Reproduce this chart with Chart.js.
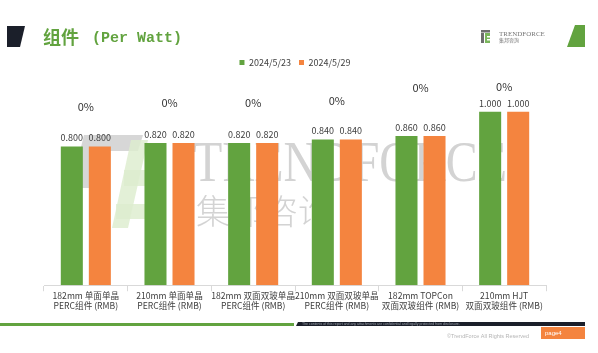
<!DOCTYPE html>
<html>
<head>
<meta charset="utf-8">
<script src="https://cdn.jsdelivr.net/npm/chart.js@4.4.0/dist/chart.umd.min.js"></script>
<style>
  html, body { margin: 0; padding: 0; background: #fff; }
  #wrap { width: 598px; height: 353px; position: relative; }
</style>
</head>
<body>
<div id="wrap"><canvas id="chart" width="598" height="353"></canvas></div>
<script>
const categories = [
  ["182mm 单面单晶", "PERC组件 (RMB)"],
  ["210mm 单面单晶", "PERC组件 (RMB)"],
  ["182mm 双面双玻单晶", "PERC组件 (RMB)"],
  ["210mm 双面双玻单晶", "PERC组件 (RMB)"],
  ["182mm TOPCon", "双面双玻组件 (RMB)"],
  ["210mm HJT", "双面双玻组件 (RMB)"]
];
const seriesNames = ["2024/5/23", "2024/5/29"];
const prices0523 = [0.800, 0.820, 0.820, 0.840, 0.860, 1.000];
const prices0529 = [0.800, 0.820, 0.820, 0.840, 0.860, 1.000];
const changes = ["0%", "0%", "0%", "0%", "0%", "0%"];

const GREEN = "#62a33f";
const ORANGE = "#f4843f";
const CJK = "'Noto Sans CJK SC', 'Noto Sans', sans-serif";

// how far above the taller bar each change label sits (px)
const changeLift = [40, 40, 40, 39, 48, 25];

const decor = {
  id: "decor",
  beforeDatasetsDraw(chart) {
    const ctx = chart.ctx;
    ctx.save();
    // watermark logo
    ctx.fillStyle = "rgba(205,205,205,0.8)";
    ctx.beginPath();
    ctx.moveTo(84, 135); ctx.lineTo(143, 135); ctx.lineTo(138, 151); ctx.lineTo(80, 151);
    ctx.closePath(); ctx.fill();
    ctx.beginPath();
    ctx.moveTo(80, 151); ctx.lineTo(101, 151); ctx.lineTo(94, 188); ctx.lineTo(74, 188);
    ctx.closePath(); ctx.fill();
    ctx.fillStyle = "rgba(222,237,208,0.85)";
    ctx.beginPath();
    ctx.moveTo(131, 140); ctx.lineTo(148, 140); ctx.lineTo(128, 228); ctx.lineTo(112, 228);
    ctx.closePath(); ctx.fill();
    ctx.fillRect(124, 170, 40, 16);
    ctx.fillRect(116, 204, 44, 15);
    // watermark text
    ctx.fillStyle = "rgba(196,196,196,0.75)";
    ctx.font = "56px 'Liberation Serif', serif";
    ctx.textBaseline = "alphabetic";
    const wm = "TRENDFORCE";
    const w = ctx.measureText(wm).width;
    ctx.translate(193, 181);
    ctx.scale(314 / w, 1);
    ctx.fillText(wm, 0, 0);
    ctx.restore();
    ctx.save();
    ctx.fillStyle = "rgba(196,196,196,0.75)";
    ctx.font = "300 34px " + CJK;
    ctx.textBaseline = "alphabetic";
    ctx.fillText("集邦咨询", 196, 224);
    ctx.restore();
  },
  afterDatasetsDraw(chart) {
    const ctx = chart.ctx;
    ctx.save();
    ctx.fillStyle = "#404040";
    ctx.font = "9px " + CJK;
    ctx.textAlign = "center";
    ctx.textBaseline = "bottom";
    chart.data.datasets.forEach((ds, i) => {
      chart.getDatasetMeta(i).data.forEach((bar, j) => {
        ctx.fillText(ds.data[j].toFixed(3), bar.x, bar.y - 4);
      });
    });
    const y = chart.scales.y;
    ctx.font = "11px " + CJK;
    ctx.fillStyle = "#333";
    ctx.textBaseline = "middle";
    changes.forEach((c, j) => {
      const top = y.getPixelForValue(Math.max(prices0523[j], prices0529[j]));
      ctx.fillText(c, chart.scales.x.getPixelForValue(j), top - changeLift[j]);
    });
    ctx.restore();
  },
  afterDraw(chart) {
    const ctx = chart.ctx;
    ctx.save();
    // header
    ctx.fillStyle = "#1b1f2a";
    ctx.beginPath();
    ctx.moveTo(7, 26); ctx.lineTo(25, 26); ctx.lineTo(20, 47); ctx.lineTo(7, 47);
    ctx.closePath(); ctx.fill();
    ctx.fillStyle = GREEN;
    ctx.beginPath();
    ctx.moveTo(575, 25); ctx.lineTo(585, 25); ctx.lineTo(585, 47); ctx.lineTo(567, 47);
    ctx.closePath(); ctx.fill();
    ctx.fillStyle = GREEN;
    ctx.textBaseline = "middle";
    ctx.font = "bold 18px " + CJK;
    ctx.fillText("组件", 43, 37);
    ctx.font = "bold 15px 'Liberation Mono', monospace";
    ctx.fillText("(Per Watt)", 92, 38);
    // logo
    ctx.fillStyle = "#6d6d6d";
    ctx.fillRect(481, 30, 9, 2.5);
    ctx.fillRect(481, 33, 3, 10);
    ctx.fillStyle = "#7ab55c";
    ctx.fillRect(485, 33, 5, 10);
    ctx.fillStyle = "#fff";
    ctx.fillRect(487, 36, 3, 1.5);
    ctx.fillRect(487, 39, 3, 1.5);
    ctx.fillStyle = "#777";
    ctx.font = "7px 'Liberation Serif', serif";
    ctx.fillText("TRENDFORCE", 499, 34);
    ctx.font = "5px " + CJK;
    ctx.fillText("集邦咨詢", 499, 40.5);
    // footer
    ctx.fillStyle = GREEN;
    ctx.fillRect(0, 323, 294, 3);
    ctx.fillStyle = "#1b1f2a";
    ctx.beginPath();
    ctx.moveTo(298, 322); ctx.lineTo(585, 322); ctx.lineTo(585, 326); ctx.lineTo(296, 326);
    ctx.closePath(); ctx.fill();
    ctx.fillStyle = "#9aa0aa";
    ctx.font = "3.5px 'Liberation Sans', sans-serif";
    ctx.fillText("The contents of this report and any attachments are confidential and legally protected from disclosure.", 302, 324);
    ctx.fillStyle = "#b5b5b5";
    ctx.font = "5.5px 'Liberation Sans', sans-serif";
    ctx.fillText("©TrendForce All Rights Reserved", 447, 336);
    ctx.fillStyle = ORANGE;
    ctx.fillRect(541, 327, 44, 12);
    ctx.fillStyle = "#fff";
    ctx.font = "6px 'Liberation Sans', sans-serif";
    ctx.fillText("page4", 545, 333);
    ctx.restore();
  }
};

new Chart(document.getElementById("chart").getContext("2d"), {
  type: "bar",
  data: {
    labels: categories,
    datasets: [
      { label: seriesNames[0], data: prices0523, backgroundColor: GREEN },
      { label: seriesNames[1], data: prices0529, backgroundColor: ORANGE }
    ]
  },
  options: {
    responsive: false,
    animation: false,
    devicePixelRatio: 1,
    layout: { padding: { top: 50, left: 44, right: 52, bottom: 42 } },
    datasets: { bar: { categoryPercentage: 0.67, barPercentage: 0.786 } },
    plugins: {
      legend: {
        display: true,
        position: "top",
        labels: {
          boxWidth: 5, boxHeight: 5, padding: 8,
          color: "#404040",
          font: { size: 9, family: CJK }
        }
      },
      tooltip: { enabled: false }
    },
    scales: {
      x: {
        grid: { display: true, drawOnChartArea: false, drawTicks: true, tickLength: 6, color: "#d9d9d9", offset: true },
        border: { color: "#d9d9d9" },
        ticks: { color: "#404040", font: { size: 8.6, family: CJK, lineHeight: 1.15 }, maxRotation: 0, autoSkip: false, padding: 0 }
      },
      y: {
        display: false,
        min: 0,
        max: 1.2
      }
    }
  },
  plugins: [decor]
});
</script>
</body>
</html>
